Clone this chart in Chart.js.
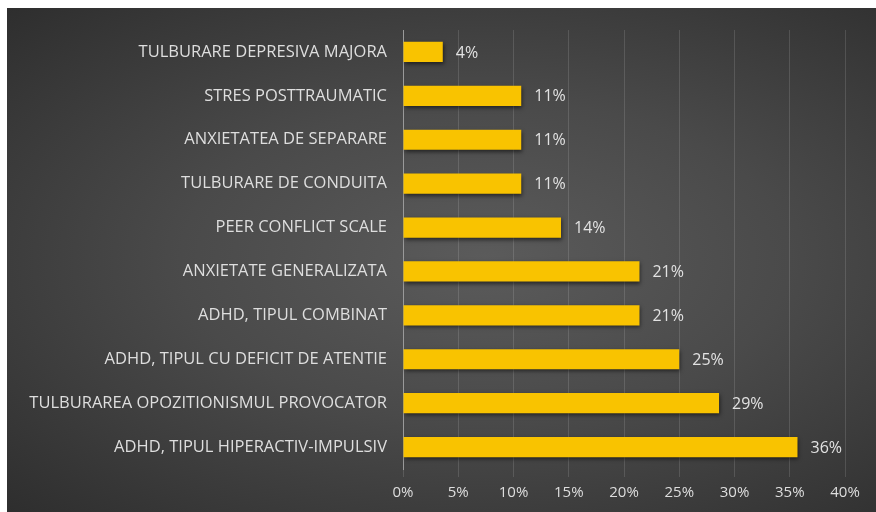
<!DOCTYPE html>
<html>
<head>
<meta charset="utf-8">
<script src="https://cdn.jsdelivr.net/npm/chart.js@4"></script>
<style>
  body { margin: 0; background: #ffffff; }
  #wrap {
    position: absolute; left: 7px; top: 8px; width: 869px; height: 504px;
    background: radial-gradient(ellipse at 55% 50%, #5b5b5b 0%, #4a4a4a 45%, #2e2e2e 100%);
  }
</style>
</head>
<body>
<div id="wrap"><canvas id="grafic"></canvas></div>
<script>
// categorii si procente (etichetele sunt rotunjite)
const categorii = [
  'TULBURARE DEPRESIVA MAJORA',
  'STRES POSTTRAUMATIC',
  'ANXIETATEA DE SEPARARE',
  'TULBURARE DE CONDUITA',
  'PEER CONFLICT SCALE',
  'ANXIETATE GENERALIZATA',
  'ADHD, TIPUL COMBINAT',
  'ADHD, TIPUL CU DEFICIT DE ATENTIE',
  'TULBURAREA OPOZITIONISMUL PROVOCATOR',
  'ADHD, TIPUL HIPERACTIV-IMPULSIV'
];
const procente = [3.6, 10.7, 10.7, 10.7, 14.3, 21.4, 21.4, 25, 28.6, 35.7];
const etichete = ['4%', '11%', '11%', '11%', '14%', '21%', '21%', '25%', '29%', '36%'];
const tickuri = [0, 5, 10, 15, 20, 25, 30, 35, 40];

const fontText = 'Open Sans, sans-serif';

// etichete la capatul barelor
const eticheteBare = {
  id: 'eticheteBare',
  afterDatasetsDraw(chart) {
    const ctx = chart.ctx;
    const meta = chart.getDatasetMeta(0);
    ctx.save();
    ctx.font = '16px ' + fontText;
    ctx.fillStyle = '#e2e2e2';
    ctx.textAlign = 'left';
    ctx.textBaseline = 'middle';
    meta.data.forEach((bar, i) => {
      ctx.fillText(etichete[i], bar.x + 13, bar.y + 1);
    });
    ctx.restore();
  }
};

// umbra sub bare
const umbra = {
  id: 'umbra',
  beforeDatasetsDraw(chart) {
    chart.ctx.save();
    chart.ctx.shadowColor = 'rgba(0,0,0,0.55)';
    chart.ctx.shadowBlur = 4;
    chart.ctx.shadowOffsetX = 1;
    chart.ctx.shadowOffsetY = 2;
  },
  afterDatasetsDraw(chart) {
    chart.ctx.restore();
  }
};

const ctx = document.getElementById('grafic').getContext('2d');
const grafic = new Chart(ctx, {
  type: 'bar',
  data: {
    labels: categorii,
    datasets: [{
      data: procente,
      backgroundColor: (c) => {
        const area = c.chart.chartArea;
        const el = c.element;
        if (!area || !el || el.y === undefined) return '#f9c300';
        const h = el.height || 20;
        const g = c.chart.ctx.createLinearGradient(0, el.y - h / 2, 0, el.y + h / 2);
        g.addColorStop(0, '#ffd54a');
        g.addColorStop(0.35, '#ffc400');
        g.addColorStop(1, '#e0a800');
        return g;
      },
      borderWidth: 0,
      barPercentage: 0.92,
      categoryPercentage: 0.5
    }]
  },
  options: {
    responsive: true,
    maintainAspectRatio: false,
    animation: false,
    indexAxis: 'y',
    layout: { padding: { left: 0, right: 31, top: 22, bottom: 0 } },
    plugins: {
      legend: { display: false },
      tooltip: { enabled: false }
    },
    scales: {
      x: {
        min: 0,
        max: 40,
        afterBuildTicks: (scale) => { scale.ticks = tickuri.map(v => ({ value: v })); },
        afterFit: (scale) => { scale.height = 43; },
        grid: { color: 'rgba(255,255,255,0.13)', drawTicks: true, tickLength: 8, tickColor: 'rgba(255,255,255,0.13)' },
        border: { display: false },
        ticks: {
          color: '#dedede',
          font: { family: fontText, size: 15 },
          padding: 7,
          callback: (v) => v + '%'
        }
      },
      y: {
        afterFit: (scale) => { scale.width = 396; },
        grid: { display: false },
        border: { display: true, color: '#9a9a9a', width: 1 },
        ticks: {
          color: '#dedede',
          font: { family: fontText, size: 16.5 },
          padding: 8
        }
      }
    }
  },
  plugins: [umbra, eticheteBare]
});
</script>
</body>
</html>
